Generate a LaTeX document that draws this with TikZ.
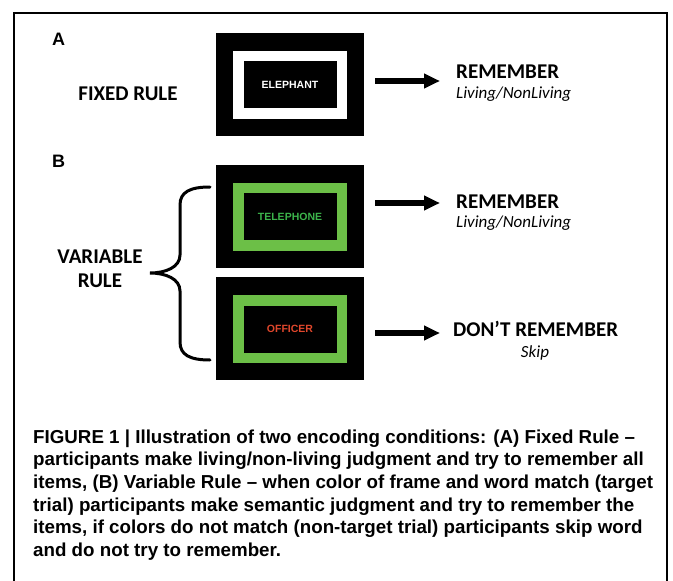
\documentclass[tikz,border=0pt]{standalone}
\usepackage{fontspec}
\setmainfont{Carlito}
\newfontfamily\arialfont{Liberation Sans}
\usetikzlibrary{arrows.meta}
\definecolor{framegreen}{HTML}{6CBF47}
\definecolor{wordgreen}{HTML}{3CB44B}
\definecolor{wordred}{HTML}{E0472C}
\tikzset{
  screen/.style={fill=black, minimum width=148pt, minimum height=103pt, inner sep=0pt},
  wordbox/.style={fill=black, line width=10.5pt, minimum width=103.5pt, minimum height=57.5pt,
    inner sep=0pt, font=\arialfont\bfseries\fontsize{10.5}{12}\selectfont},
  panel/.style={font=\arialfont\bfseries\fontsize{18}{20}\selectfont, inner sep=0pt},
  rulelabel/.style={font=\bfseries\fontsize{21}{24}\selectfont, inner sep=0pt, align=center},
  outcome/.style={font=\bfseries\fontsize{21}{24}\selectfont, inner sep=0pt},
  detail/.style={font=\itshape\fontsize{17}{20}\selectfont, inner sep=0pt},
  bigarrow/.style={line width=6pt, -{Triangle[length=16pt, width=14pt]}},
  caption/.style={font=\arialfont\bfseries\fontsize{18.75}{22}\selectfont, inner sep=0pt, anchor=base west},
}
\begin{document}
\begin{tikzpicture}[x=1pt, y=-1pt]
\useasboundingbox (0,0) rectangle (673,581);
% figure frame, open at the bottom
\draw[line width=2pt] (14,581) -- (14,13) -- (667,13) -- (667,581);

% panel letters
\node[panel, anchor=base west] (labA) at (52,45) {A};
\node[panel, anchor=base west] (labB) at (52,167) {B};

% A: fixed rule
\node[rulelabel, anchor=base] (fixed) at (128,100) {FIXED RULE};
\node[screen] (scrA) at (290,84.5) {};
\node[wordbox, draw=white, text=white] (wA) at (scrA.center) {ELEPHANT};
\node[outcome, anchor=base west] (remA) at (456,78) {REMEMBER};
\node[detail, anchor=base west] (livA) at (456,98) {Living/NonLiving};
\coordinate (arA1) at (375,81);
\coordinate (arA2) at (440,81);
\draw[bigarrow] (arA1) -- (arA2);

% B: variable rule
\node[rulelabel, anchor=base] (varl) at (100,263) {VARIABLE};
\node[rulelabel, anchor=base] (rule) at (100,287) {RULE};
\node[screen] (scrB1) at (290,216) {};
\node[wordbox, draw=framegreen, text=wordgreen] (wB1) at (290,216.5) {TELEPHONE};
\node[screen] (scrB2) at (290,328.5) {};
\node[wordbox, draw=framegreen, text=wordred] (wB2) at (290,329) {OFFICER};

\node[outcome, anchor=base west] (remB) at (456,208) {REMEMBER};
\node[detail, anchor=base west] (livB) at (456,227) {Living/NonLiving};
\node[outcome, anchor=base west] (dont) at (453,336) {DON’T REMEMBER};
\node[detail, anchor=base] (skip) at (535,357) {Skip};
\coordinate (arB1) at (375,203);
\coordinate (arB2) at (440,203);
\draw[bigarrow] (arB1) -- (arB2);
\coordinate (arC1) at (375,333);
\coordinate (arC2) at (440,333);
\draw[bigarrow] (arC1) -- (arC2);

% curly brace grouping the two screens
\draw[line width=3pt, line cap=round]
  (210,187) .. controls (190,187) and (180,192) .. (180,205) -- (180,255)
  .. controls (180,267) and (166,273) .. (150,273)
  .. controls (166,273) and (180,279) .. (180,291) -- (180,342)
  .. controls (180,355) and (190,360) .. (210,360);

% caption
\node[caption] (c1) at (33,443) {FIGURE 1 | Illustration of two encoding conditions: (A) Fixed Rule –};
\node[caption] (c2) at (33,465.7) {participants make living/non-living judgment and try to remember all};
\node[caption] (c3) at (33,488.4) {items, (B) Variable Rule – when color of frame and word match (target};
\node[caption] (c4) at (33,511.1) {trial) participants make semantic judgment and try to remember the};
\node[caption] (c5) at (33,533.8) {items, if colors do not match (non-target trial) participants skip word};
\node[caption] (c6) at (33,556.5) {and do not try to remember.};
\end{tikzpicture}
\end{document}
